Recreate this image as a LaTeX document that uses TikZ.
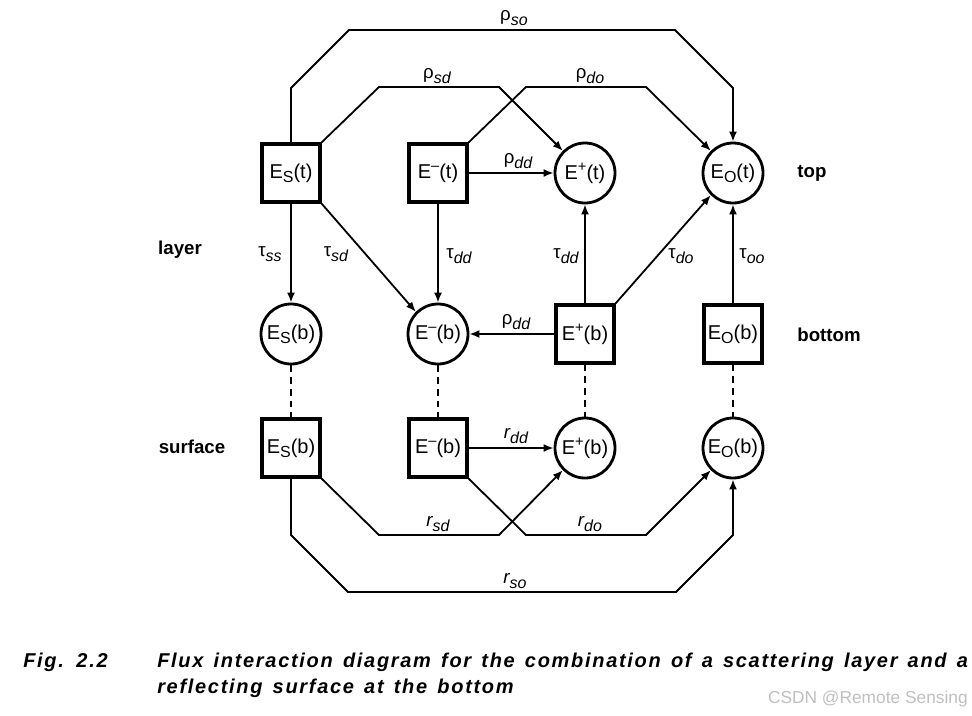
\documentclass[tikz,border=0pt]{standalone}
\usepackage{fontspec}
\setmainfont{Liberation Sans}
\newfontfamily\capfont[LetterSpace=8.5,WordSpace=1.4]{Liberation Sans}
\usetikzlibrary{arrows.meta}
\newcommand\sbs[1]{\raisebox{-0.4ex}{\fontsize{12}{12}\selectfont #1}}
\newcommand\sps[1]{\raisebox{0.75ex}{\fontsize{11}{11}\selectfont #1}}
\newcommand\gl[2]{#1\raisebox{-0.5ex}{\fontsize{12}{12}\selectfont\itshape #2}}
\tikzset{
  sq/.style={draw, line width=2.5pt, minimum size=43.5pt, inner sep=0pt, font=\fontsize{15}{18}\selectfont},
  cir/.style={draw, circle, line width=2.1pt, minimum size=45pt, inner sep=0pt, font=\fontsize{15}{18}\selectfont},
  conn/.style={line width=1.35pt},
  arr/.style={conn, -{Latex[length=7.5pt,width=6pt]}},
  dsh/.style={line width=1.5pt, dash pattern=on 5pt off 3.8pt},
  lab/.style={font=\fontsize{14}{16}\selectfont, inner sep=0pt},
  side/.style={font=\bfseries\fontsize{14}{16}\selectfont, inner sep=0pt},
  captxt/.style={font=\capfont\bfseries\itshape\fontsize{15}{18}\selectfont, inner sep=0pt, anchor=base west}
}
\begin{document}
\begin{tikzpicture}[x=0.75pt,y=-0.75pt]
\useasboundingbox (0,0) rectangle (972,715);
% nodes
\node[sq]  (Est) at (291,173) {E\sbs{S}(t)};
\node[sq]  (Emt) at (438,173) {E\sps{--}(t)};
\node[cir] (Ept) at (585,173) {E\sps{+}(t)};
\node[cir] (Eot) at (733,173) {E\sbs{O}(t)};
\node[cir] (Esb) at (291,334) {E\sbs{S}(b)};
\node[cir] (Emb) at (438,334) {E\sps{--}(b)};
\node[sq]  (Epb) at (585,334) {E\sps{+}(b)};
\node[sq]  (Eob) at (733,334) {E\sbs{O}(b)};
\node[sq]  (Ess) at (291,448) {E\sbs{S}(b)};
\node[sq]  (Ems) at (438,448) {E\sps{--}(b)};
\node[cir] (Eps) at (585,448) {E\sps{+}(b)};
\node[cir] (Eos) at (733,448) {E\sbs{O}(b)};
% side labels
\node[side] (ltop) at (812,173) {top};
\node[side] (lbot) at (829,335) {bottom};
\node[side] (llay) at (180,250) {layer};
\node[side] (lsur) at (192,447) {surface};
% top reflections
\draw[arr] (Est.north) -- (291,88) -- (349,30) -- (675,30) -- (733,88) -- (Eot.north);
\draw[arr] (Est.north east) -- (379,87) -- (499,87) -- (Ept.north west);
\draw[arr] (Emt.north east) -- (526,87) -- (646,87) -- (Eot.north west);
\draw[arr] (Emt.east) -- (Ept.west);
% transmissions
\draw[arr] (Est.south) -- (Esb.north);
\draw[arr] (Est.south east) -- (Emb.north west);
\draw[arr] (Emt.south) -- (Emb.north);
\draw[arr] (Epb.north) -- (Ept.south);
\draw[arr] (Epb.north east) -- (Eot.south west);
\draw[arr] (Eob.north) -- (Eot.south);
\draw[arr] (Epb.west) -- (Emb.east);
% dashed links
\draw[dsh] (Esb.south) -- (Ess.north);
\draw[dsh] (Emb.south) -- (Ems.north);
\draw[dsh] (Epb.south) -- (Eps.north);
\draw[dsh] (Eob.south) -- (Eos.north);
% surface reflections
\draw[arr] (Ems.east) -- (Eps.west);
\draw[arr] (Ess.south east) -- (379,535) -- (499,535) -- (Eps.south west);
\draw[arr] (Ems.south east) -- (526,535) -- (646,535) -- (Eos.south west);
\draw[arr] (Ess.south) -- (291,535) -- (348,592) -- (676,592) -- (733,535) -- (Eos.south);
% labels
\node[lab] (tso) at (514,18) {\gl{ρ}{so}};
\node[lab] (tsd) at (437,76) {\gl{ρ}{sd}};
\node[lab] (tdo) at (590,76) {\gl{ρ}{do}};
\node[lab] (tdd) at (518,161) {\gl{ρ}{dd}};
\node[lab] (uss) at (270,254) {\gl{τ}{ss}};
\node[lab] (usd) at (336,254) {\gl{τ}{sd}};
\node[lab] (udd1) at (459,256) {\gl{τ}{dd}};
\node[lab] (udd2) at (566,256) {\gl{τ}{dd}};
\node[lab] (udo) at (681,256) {\gl{τ}{do}};
\node[lab] (uoo) at (752,256) {\gl{τ}{oo}};
\node[lab] (bdd) at (516,322) {\gl{ρ}{dd}};
\node[lab] (rdd) at (516,436) {\gl{\itshape r}{dd}};
\node[lab] (rsd) at (438,524) {\gl{\itshape r}{sd}};
\node[lab] (rdo) at (590,524) {\gl{\itshape r}{do}};
\node[lab] (rso) at (515,581) {\gl{\itshape r}{so}};
% caption
\node[captxt] (fig) at (23,667) {Fig. 2.2};
\node[captxt] (cap1) at (157,667) {Flux interaction diagram for the combination of a scattering layer and a};
\node[captxt] (cap2) at (157,693) {reflecting surface at the bottom};
\node[anchor=base east, inner sep=0pt, text=black!25, font=\fontsize{13}{15}\selectfont] (wm) at (968,703) {CSDN @Remote Sensing};
\end{tikzpicture}
\end{document}
